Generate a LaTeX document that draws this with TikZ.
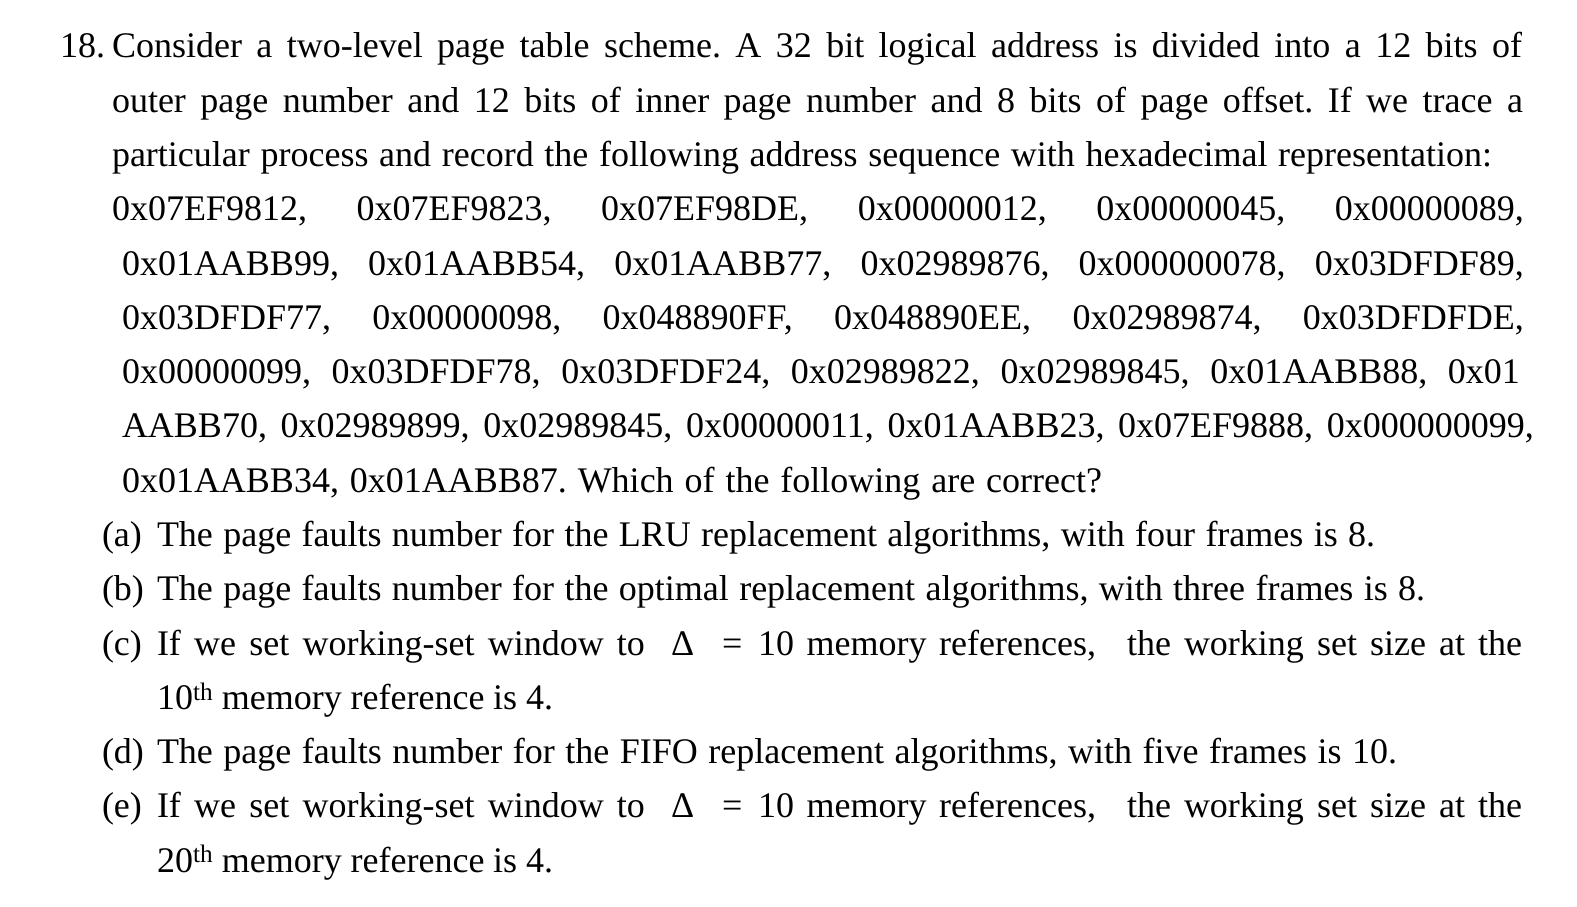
\documentclass[tikz,border=0pt]{standalone}
\usepackage{fontspec}
\setmainfont{Liberation Serif}
\frenchspacing
\begin{document}
\begin{tikzpicture}[x=1pt,y=-1pt,
  txt/.style={anchor=base west, inner sep=0pt, outer sep=0pt, font=\fontsize{36}{42}\selectfont\frenchspacing},
  txte/.style={txt, anchor=base east}]
\useasboundingbox[fill=white] (0,0) rectangle (1577,907);
\node[txt] (n18) at (60,58) {18.};
\node[txt] (l1) at (112,58) {\makebox[1410pt][s]{Consider a two-level page table scheme. A 32 bit logical address is divided into a 12 bits of}};
\node[txt] (l2) at (112,112.3) {\makebox[1411pt][s]{outer page number and 12 bits of inner page number and 8 bits of page offset. If we trace a}};
\node[txt] (l3) at (112,166.5) {\makebox[1380pt][s]{particular process and record the following address sequence with hexadecimal representation:}};
\node[txt] (l4) at (112,220.8) {\makebox[1412pt][s]{0x07EF9812, 0x07EF9823, 0x07EF98DE, 0x00000012, 0x00000045, 0x00000089,}};
\node[txt] (l5) at (122,275.1) {\makebox[1402pt][s]{0x01AABB99, 0x01AABB54, 0x01AABB77, 0x02989876, 0x000000078, 0x03DFDF89,}};
\node[txt] (l6) at (122,329.4) {\makebox[1402pt][s]{0x03DFDF77, 0x00000098, 0x048890FF, 0x048890EE, 0x02989874, 0x03DFDFDE,}};
\node[txt] (l7) at (122,383.6) {\makebox[1398pt][s]{0x00000099, 0x03DFDF78, 0x03DFDF24, 0x02989822, 0x02989845, 0x01AABB88, 0x01}};
\node[txt] (l8) at (122,437.9) {\makebox[1412pt][s]{AABB70, 0x02989899, 0x02989845, 0x00000011, 0x01AABB23, 0x07EF9888, 0x000000099,}};
\node[txt] (l9) at (122,492.2) {\makebox[980pt][s]{0x01AABB34, 0x01AABB87. Which of the following are correct?}};
\node[txt] (la0) at (102,546.4) {(a)};
\node[txt] (la) at (157,546.4) {\makebox[1218pt][s]{The page faults number for the LRU replacement algorithms, with four frames is 8.}};
\node[txt] (lb0) at (102,600.7) {(b)};
\node[txt] (lb) at (157,600.7) {\makebox[1268pt][s]{The page faults number for the optimal replacement algorithms, with three frames is 8.}};
\node[txt] (lc0) at (102,655) {(c)};
\node[txt] (lc1) at (157,655) {\makebox[488pt][s]{If we set working-set window to}};
\node[txt] (lc2) at (671,655) {Δ};
\node[txt] (lc3) at (722,655) {=};
\node[txt] (lc4) at (758,655) {\makebox[338pt][s]{10 memory references,}};
\node[txte] (lc5) at (1522,655) {\makebox[395pt][s]{the working set size at the}};
\node[txt] (lc6) at (157,709.2) {\makebox[396pt][s]{10\textsuperscript{th} memory reference is 4.}};
\node[txt] (ld0) at (102,763.5) {(d)};
\node[txt] (ld) at (157,763.5) {\makebox[1240pt][s]{The page faults number for the FIFO replacement algorithms, with five frames is 10.}};
\node[txt] (le0) at (102,817.8) {(e)};
\node[txt] (le1) at (157,817.8) {\makebox[488pt][s]{If we set working-set window to}};
\node[txt] (le2) at (671,817.8) {Δ};
\node[txt] (le3) at (722,817.8) {=};
\node[txt] (le4) at (758,817.8) {\makebox[338pt][s]{10 memory references,}};
\node[txte] (le5) at (1522,817.8) {\makebox[395pt][s]{the working set size at the}};
\node[txt] (le6) at (157,872) {\makebox[396pt][s]{20\textsuperscript{th} memory reference is 4.}};
\end{tikzpicture}
\end{document}
